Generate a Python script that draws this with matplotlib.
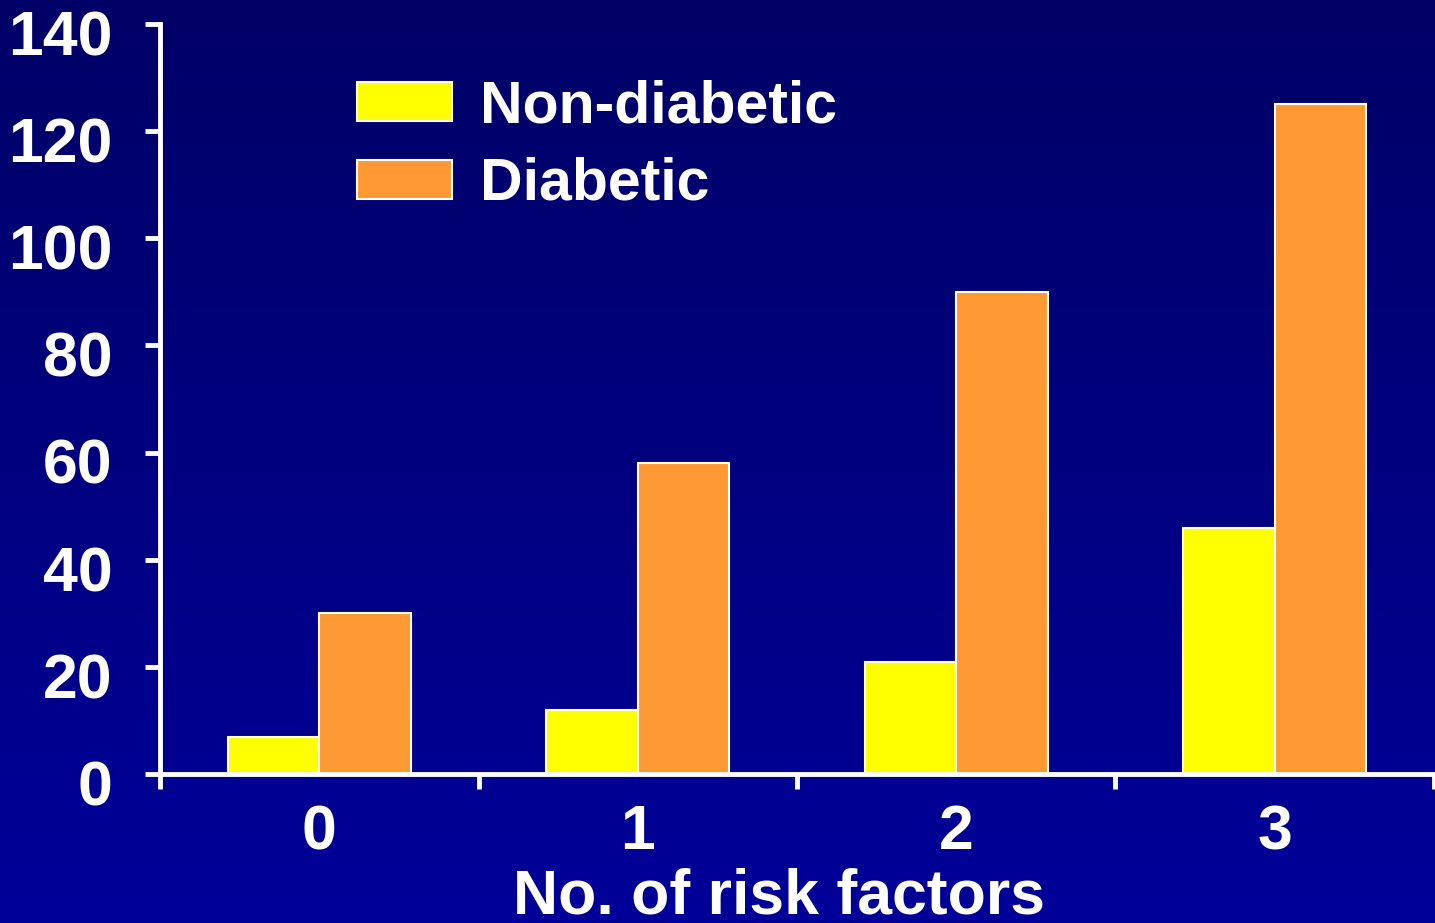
import numpy as np
import matplotlib.pyplot as plt
import matplotlib.transforms as mtransforms
from matplotlib.colors import LinearSegmentedColormap

categories = ['0', '1', '2', '3']
non_diabetic = [7, 12, 21, 46]
diabetic = [30, 58, 90, 125]
yticks = [0, 20, 40, 60, 80, 100, 120, 140]

plt.rcParams['font.family'] = ['Liberation Sans', 'DejaVu Sans']
plt.rcParams['font.weight'] = 'bold'

fig = plt.figure(figsize=(14.35, 9.23), dpi=100)

# navy-to-blue vertical background
bg = fig.add_axes([0, 0, 1, 1], zorder=-10)
grad = np.linspace(0, 1, 256).reshape(-1, 1)
cmap = LinearSegmentedColormap.from_list('bg', ['#000066', '#000099'])
bg.imshow(grad, aspect='auto', cmap=cmap, extent=[0, 1, 0, 1], origin='upper')
bg.axis('off')

ax = fig.add_axes([0.1115, 0.1614, 0.8878, 0.8126])
ax.patch.set_alpha(0)

x = np.arange(len(categories))
w = 0.287
ax.bar(x - w / 2, non_diabetic, w, color='#ffff00', edgecolor='white',
       linewidth=1.5, label='Non-diabetic')
ax.bar(x + w / 2, diabetic, w, color='#ff9933', edgecolor='white',
       linewidth=1.5, label='Diabetic')

ax.set_xlim(-0.5, 3.5)
ax.set_ylim(0, 140)
ax.set_yticks(yticks)
ax.set_xticks(np.arange(-0.5, 4.0, 1.0))
ax.set_xticklabels([])
ax.set_xticks(x, minor=True)
ax.set_xticklabels(categories, minor=True)

for side in ['top', 'right']:
    ax.spines[side].set_visible(False)
for side in ['left', 'bottom']:
    ax.spines[side].set_color('white')
    ax.spines[side].set_linewidth(3.5)

ax.tick_params(axis='y', colors='white', labelsize=45, length=11, width=3.5, pad=23)
ax.tick_params(axis='x', which='major', colors='white', length=11, width=3.5)
ax.tick_params(axis='x', which='minor', colors='white', labelsize=45, length=0, pad=21)

# y labels sit a little below their ticks
shift = mtransforms.ScaledTranslation(0, -6 / 72, fig.dpi_scale_trans)
for lbl in ax.get_yticklabels():
    lbl.set_transform(lbl.get_transform() + shift)

ax.set_xlabel('No. of risk factors', color='white', fontsize=45,
              fontweight='bold', labelpad=4, x=0.486)

leg = ax.legend(loc='upper left', bbox_to_anchor=(0.113, 0.997), frameon=False,
                fontsize=42.5, handlelength=1.61, handleheight=0.64,
                handletextpad=0.47, labelspacing=0.38)
for t in leg.get_texts():
    t.set_color('white')

fig.savefig('out.png', dpi=100)
